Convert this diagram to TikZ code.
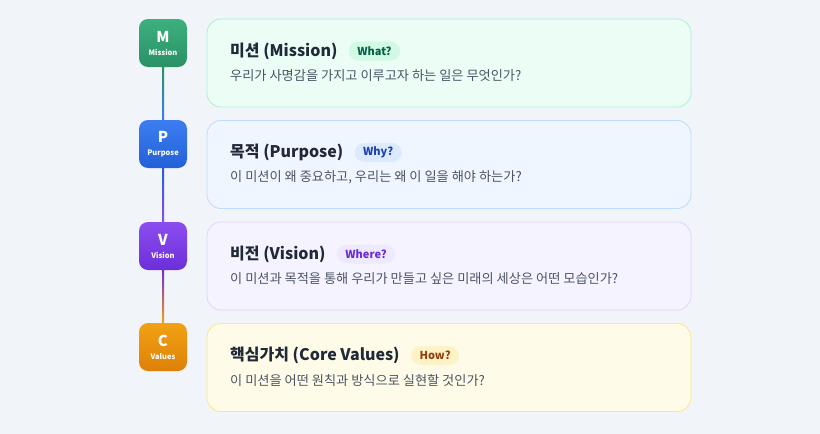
\documentclass[tikz,border=0pt]{standalone}
\usepackage{fontspec}
\setmainfont{Noto Sans CJK KR}
\usetikzlibrary{positioning,calc}

\definecolor{bgcol}{HTML}{F1F4F8}
\definecolor{titlecol}{HTML}{1F2937}
\definecolor{subcol}{HTML}{4B5563}
\definecolor{mtop}{HTML}{3CB07D}
\definecolor{mbot}{HTML}{2B9166}
\definecolor{ptop}{HTML}{3C7EF1}
\definecolor{pbot}{HTML}{2360D8}
\definecolor{vtop}{HTML}{8C4DF0}
\definecolor{vbot}{HTML}{6C2ED8}
\definecolor{ctop}{HTML}{F1A213}
\definecolor{cbot}{HTML}{DE8009}
\definecolor{mfill}{HTML}{ECFDF5}
\definecolor{mline}{HTML}{A7F3D0}
\definecolor{pfill}{HTML}{EFF6FF}
\definecolor{pline}{HTML}{BFDBFE}
\definecolor{vfill}{HTML}{F5F3FF}
\definecolor{vline}{HTML}{DDD6FE}
\definecolor{cfill}{HTML}{FEFCE8}
\definecolor{cline}{HTML}{FDE68A}
\definecolor{mbadge}{HTML}{D1FAE5}
\definecolor{mbtext}{HTML}{065F46}
\definecolor{pbadge}{HTML}{DBEAFE}
\definecolor{pbtext}{HTML}{1E40AF}
\definecolor{vbadge}{HTML}{EDE9FE}
\definecolor{vbtext}{HTML}{6D28D9}
\definecolor{cbadge}{HTML}{FEF3C7}
\definecolor{cbtext}{HTML}{92400E}

\tikzset{
  iconbox/.style={rounded corners=9pt, minimum width=48pt, minimum height=48pt,
    inner sep=0pt, text=white, align=center, font=\bfseries},
  card/.style={rounded corners=14pt, minimum width=484pt, minimum height=88pt, line width=0.8pt},
  cardtitle/.style={anchor=west, inner sep=0pt, text=titlecol, font=\fontsize{16}{18}\selectfont\bfseries},
  cardtext/.style={anchor=west, inner sep=0pt, text=subcol, font=\fontsize{13.2}{15}\selectfont},
  badge/.style={rounded corners=9.5pt, minimum height=19pt, inner xsep=8.5pt, inner ysep=0pt,
    font=\fontsize{11}{12}\selectfont\bfseries, right=11pt of #1}
}

\newcommand{\icontext}[2]{{\fontsize{15}{15}\selectfont #1}\\[1pt]{\fontsize{7.5}{8}\selectfont #2}}

\begin{document}
\begin{tikzpicture}[x=1pt,y=-1pt]
            \fill[bgcol] (0,0) rectangle (820,434);
            \useasboundingbox (0,0) rectangle (820,434);

            \node[iconbox, top color=mtop, bottom color=mbot] (m) at (163,43) {\icontext{M}{Mission}};
            \node[iconbox, top color=ptop, bottom color=pbot] (p) at (163,144) {\icontext{P}{Purpose}};
            \node[iconbox, top color=vtop, bottom color=vbot] (v) at (163,246) {\icontext{V}{Vision}};
            \node[iconbox, top color=ctop, bottom color=cbot] (c) at (163,347) {\icontext{C}{Values}};

            \shade[top color=mbot, bottom color=ptop] ($(m.south)+(-1,0)$) rectangle ($(p.north)+(1,0)$);
            \shade[top color=pbot, bottom color=vtop] ($(p.south)+(-1,0)$) rectangle ($(v.north)+(1,0)$);
            \shade[top color=vbot, bottom color=ctop] ($(v.south)+(-1,0)$) rectangle ($(c.north)+(1,0)$);

            \node[card, fill=mfill, draw=mline] (mcard) at (449,63) {};
            \node[card, fill=pfill, draw=pline] (pcard) at (449,164.5) {};
            \node[card, fill=vfill, draw=vline] (vcard) at (449,266) {};
            \node[card, fill=cfill, draw=cline] (ccard) at (449,367.5) {};

            \node[cardtitle] (mtitle) at (230,51) {미션 (Mission)};
            \node[badge=mtitle, fill=mbadge, text=mbtext] (mbadge) {What?};
            \node[cardtext] (mtext) at (230,76) {우리가 사명감을 가지고 이루고자 하는 일은 무엇인가?};

            \node[cardtitle] (ptitle) at (230,152.5) {목적 (Purpose)};
            \node[badge=ptitle, fill=pbadge, text=pbtext] (pbadge) {Why?};
            \node[cardtext] (ptext) at (230,177.5) {이 미션이 왜 중요하고, 우리는 왜 이 일을 해야 하는가?};

            \node[cardtitle] (vtitle) at (230,254) {비전 (Vision)};
            \node[badge=vtitle, fill=vbadge, text=vbtext] (vbadge) {Where?};
            \node[cardtext] (vtext) at (230,279) {이 미션과 목적을 통해 우리가 만들고 싶은 미래의 세상은 어떤 모습인가?};

            \node[cardtitle] (ctitle) at (230,355.5) {핵심가치 (Core Values)};
            \node[badge=ctitle, fill=cbadge, text=cbtext] (cbadge) {How?};
            \node[cardtext] (ctext) at (230,380.5) {이 미션을 어떤 원칙과 방식으로 실현할 것인가?};
        \end{tikzpicture}
\end{document}
